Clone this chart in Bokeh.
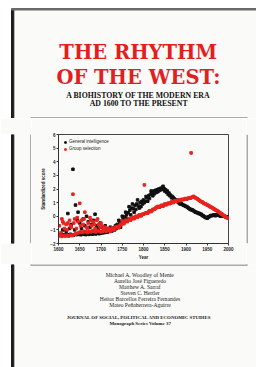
from bokeh.plotting import figure
from bokeh.layouts import column, row
from bokeh.models import Range1d, FixedTicker
from bokeh.core.properties import value
from bokeh.embed import file_html
from bokeh.resources import INLINE

# ---------------- data ----------------
x_ticks = [1600, 1650, 1700, 1750, 1800, 1850, 1900, 1950, 2000]
y_ticks = [-2, -1, 0, 1, 2, 3, 4, 5, 6]

gi_years = [1600, 1604, 1608, 1612, 1616, 1620, 1624, 1628, 1632, 1636, 1640, 1644, 1648, 1652, 1656,
            1660, 1664, 1668, 1672, 1676, 1680, 1684, 1688, 1692, 1696, 1700, 1704, 1708, 1712, 1716,
            1720, 1724, 1728, 1732, 1736, 1740, 1744, 1748, 1752, 1756, 1760, 1764, 1768, 1772, 1776,
            1780, 1784, 1788, 1792, 1796, 1800, 1804, 1808, 1812, 1816, 1820, 1824, 1828, 1832, 1836,
            1840, 1844, 1848, 1852, 1856, 1860, 1864, 1868, 1872, 1876, 1880, 1884, 1888, 1892, 1896,
            1900, 1904, 1908, 1912, 1916, 1920, 1924, 1928, 1932, 1936, 1940, 1944, 1948, 1952, 1956,
            1960, 1964, 1968, 1972, 1976, 1980, 1984, 1988, 1992, 1996, 2000]
gi_scores = [-1.35, -1.38, -1.33, -1.37, -1.40, -1.34, -1.37, -1.32, -1.36, -1.38, -1.33, -1.35, -1.30, -1.36, -1.33,
             -1.31, -1.35, -1.30, -1.33, -1.28, -1.32, -1.27, -1.30, -1.25, -1.28, -1.24, -1.22, -1.20, -1.18, -1.15,
             -1.12, -1.10, -1.05, -1.00, -0.90, -0.75, -0.55, -0.40, -0.20, -0.05, 0.10, 0.25, 0.45, 0.60, 0.55,
             0.80, 0.90, 0.75, 1.00, 1.10, 1.20, 1.10, 1.35, 1.50, 1.60, 1.70, 1.85, 1.90, 1.95, 2.00,
             2.05, 2.10, 2.05, 1.95, 1.85, 1.70, 1.55, 1.45, 1.30, 1.20, 1.10, 1.00, 0.95, 0.85, 0.80,
             0.72, 0.65, 0.55, 0.50, 0.45, 0.35, 0.30, 0.25, 0.20, 0.15, 0.05, -0.05, -0.10, -0.05, 0.00,
             0.05, 0.08, 0.05, 0.10, 0.08, 0.05, 0.00, 0.02, -0.02, -0.05, -0.08]
gi_years_b = [1610, 1618, 1622, 1626, 1630, 1634, 1638, 1640, 1644, 1646, 1650, 1654, 1658, 1662, 1666,
              1670, 1674, 1678, 1682, 1686, 1690, 1694, 1698, 1702, 1706, 1710, 1714, 1718, 1722, 1726,
              1730, 1734, 1738, 1742, 1746, 1750, 1754, 1758, 1762, 1766, 1770, 1774, 1778, 1782, 1786,
              1790, 1794, 1798, 1802, 1806, 1810, 1814, 1818, 1822, 1826, 1830, 1834, 1838, 1842, 1846,
              1850, 1854, 1858, 1862, 1866, 1870, 1874, 1878, 1882, 1886, 1890, 1894, 1898, 1902, 1906,
              1910, 1914, 1918, 1922, 1926, 1930, 1934, 1938, 1942, 1946, 1950, 1954, 1958, 1962, 1966,
              1970, 1974, 1978, 1982, 1986, 1990, 1994, 1998]
gi_scores_b = [-1.00, -1.10, 0.20, -0.90, -0.60, 3.45, -1.00, 0.82, -0.30, 0.30, -0.50, -0.90, -0.20, -0.70, 0.00,
               -0.40, -0.80, -0.60, -0.30, 0.15, -0.70, -0.90, -0.50, -0.80, -1.00, -0.70, -0.90, -1.00, -0.80, -0.95,
               -0.85, -0.70, -0.60, -0.30, -0.80, 0.00, -0.40, 0.30, -0.20, 0.70, 0.10, 0.90, 0.30, 0.50, 1.20,
               0.60, 0.70, 0.90, 1.00, 1.45, 1.10, 1.30, 1.85, 1.50, 1.65, 1.75, 1.80, 1.90, 1.95, 2.20,
               1.85, 1.75, 1.60, 1.50, 1.35, 1.35, 1.15, 1.15, 1.00, 0.90, 0.90, 0.80, 0.75, 0.70, 0.60,
               0.50, 0.45, 0.40, 0.30, 0.25, 0.20, 0.15, 0.05, 0.00, -0.10, -0.15, -0.05, 0.05, 0.05, 0.10,
               0.05, 0.12, 0.05, 0.00, 0.05, 0.00, -0.05, -0.08]

gs_years = list(gi_years)
gs_scores = [-1.45, -1.40, -1.48, -1.42, -1.45, -1.40, -1.46, -1.38, -1.42, -1.35, -1.30, -1.25, -1.20, -1.15, -1.20,
             -1.10, -1.15, -1.20, -1.10, -1.15, -1.05, -1.10, -1.15, -1.05, -1.10, -1.15, -1.10, -1.05, -1.10, -1.00,
             -1.05, -1.00, -0.95, -0.90, -0.85, -0.80, -0.70, -0.60, -0.50, -0.42, -0.35, -0.30, -0.25, -0.18, -0.12,
             -0.08, -0.02, 0.02, 0.06, 0.10, 0.14, 0.20, 0.25, 0.32, 0.38, 0.42, 0.50, 0.58, 0.64, 0.68,
             0.74, 0.78, 0.82, 0.86, 0.90, 0.95, 0.98, 1.02, 1.08, 1.12, 1.15, 1.17, 1.20, 1.22, 1.25,
             1.27, 1.30, 1.33, 1.36, 1.42, 1.40, 1.32, 1.25, 1.15, 1.07, 1.00, 0.92, 0.86, 0.80, 0.72,
             0.65, 0.57, 0.50, 0.42, 0.35, 0.25, 0.16, 0.07, -0.03, -0.10, -0.15]
gs_years_b = [1602, 1606, 1608, 1610, 1612, 1614, 1618, 1620, 1622, 1626, 1628, 1630, 1634, 1636, 1638,
              1642, 1644, 1646, 1650, 1652, 1654, 1658, 1660, 1662, 1666, 1668, 1670, 1674, 1676, 1678,
              1682, 1684, 1686, 1690, 1692, 1694, 1698, 1700, 1702, 1706, 1710, 1714, 1718, 1722, 1726,
              1730, 1734, 1738, 1742, 1746, 1750, 1754, 1758, 1762, 1766, 1770, 1774, 1778, 1782, 1786,
              1790, 1794, 1798, 1802, 1806, 1810, 1814, 1818, 1822, 1826, 1830, 1834, 1838, 1842, 1846,
              1850, 1854, 1858, 1862, 1866, 1870, 1874, 1878, 1882, 1886, 1890, 1894, 1898, 1902, 1906,
              1910, 1912, 1914, 1918, 1922, 1926, 1930, 1934, 1938, 1942, 1946, 1950, 1954, 1958, 1962,
              1966, 1970, 1974, 1978, 1982, 1986, 1990, 1994, 1998]
gs_scores_b = [-0.70, -1.20, -0.20, -0.40, -0.50, -0.90, -0.60, -1.00, -0.50, -0.30, -0.70, -0.80, 1.62, -0.50, -0.20,
               -0.90, -0.10, -0.40, 0.95, -0.70, -0.30, -0.60, -0.20, 0.30, -0.80, -0.90, -0.50, -0.10, -0.30, -0.70,
               -0.40, -0.60, -0.90, -0.30, -0.20, -0.60, -0.80, -0.50, -0.70, -0.90, -0.80, -1.00, -0.90, -1.10, -0.85,
               -1.00, -0.80, -0.75, -0.85, -0.60, -0.35, -0.55, -0.30, -0.40, -0.20, -0.28, -0.08, -0.18, 0.00, -0.08,
               0.10, 0.02, 0.16, 2.30, 0.26, 0.22, 0.40, 0.34, 0.50, 0.52, 0.66, 0.72, 0.66, 0.80, 0.74,
               0.90, 0.84, 0.96, 0.92, 1.06, 1.00, 1.14, 1.08, 1.20, 1.14, 1.24, 1.22, 1.30, 1.26, 1.34,
               1.32, 4.65, 1.40, 1.46, 1.36, 1.30, 1.20, 1.10, 1.05, 0.95, 0.90, 0.82, 0.76, 0.68, 0.62,
               0.53, 0.46, 0.38, 0.30, 0.20, 0.12, 0.02, -0.08, -0.12]

title_lines = ["THE RHYTHM", "OF THE WEST:"]
subtitle_lines = ["A BIOHISTORY OF THE MODERN ERA", "AD 1600 TO THE PRESENT"]
authors = ["Michael A. Woodley of Menie", "Aurelio José Figueredo", "Matthew A. Sarraf",
           "Steven C. Hertler", "Heitor Barcellos Ferreira Fernandes", "Mateo Peñaherrera-Aguirre"]
journal_lines = ["JOURNAL OF  SOCIAL, POLITICAL AND ECONOMIC STUDIES", "Monograph Series Volume 37"]

# ---------------- layout (page pixel coordinates) ----------------
W, H = 256, 367
PAPER = "#fafaf8"
EDGE = "#1c1c1c"
BOXC = "#5a5a5a"
TOP_H = 118               # rows 0..118
BOX_L, BOX_R = 31, 246    # chart figure columns
CH_H = 146                # rows 118..264
BOT_H = H - TOP_H - CH_H  # rows 264..367


def panel(w, h, x0, y0):
    f = figure(width=w, height=h, x_range=Range1d(x0, x0 + w), y_range=Range1d(y0 + h, y0),
               output_backend="svg", toolbar_location=None, x_axis_type=None, y_axis_type=None,
               min_border=0, title=None)
    f.outline_line_color = None
    f.background_fill_color = PAPER
    f.border_fill_color = PAPER
    # white page outside the cover and the dark spine edge
    f.quad(left=[x0], right=[11], top=[y0], bottom=[y0 + h], color="#ffffff")
    f.quad(left=[11], right=[13.3], top=[max(y0, 8)], bottom=[y0 + h], color=EDGE)
    return f


top = panel(W, TOP_H, 0, 0)
top.quad(left=[11], right=[W], top=[0], bottom=[8], color="#ffffff")
top.quad(left=[11], right=[W], top=[8], bottom=[9.5], color="#6a6a6a")
top.segment(x0=[30, 30.5, 246.5], y0=[117.5, 117.5, 117.5], x1=[247, 30.5, 246.5], y1=[117.5, 118, 118],
            line_color=BOXC, line_width=1)
top.text(x=[137.7, 138], y=[52, 77], text=title_lines, text_align="center",
         text_baseline="middle", text_font=value("DejaVu Serif"), text_font_style="bold",
         text_font_size="19.5px", text_color="#e21f1f")
top.text(x=[138, 138.3], y=[94.5, 102.7], text=subtitle_lines, text_align="center",
         text_baseline="middle", text_font=value("Liberation Serif"), text_font_style="bold",
         text_font_size="7.8px", text_color="#111111")

left = panel(BOX_L, CH_H, 0, TOP_H)
left.segment(x0=[30.5], y0=[TOP_H], x1=[30.5], y1=[TOP_H + CH_H], line_color=BOXC, line_width=1)
right = figure(width=W - BOX_R, height=CH_H, x_range=Range1d(BOX_R, W),
               y_range=Range1d(TOP_H + CH_H, TOP_H), output_backend="svg", toolbar_location=None,
               x_axis_type=None, y_axis_type=None, min_border=0, title=None)
right.outline_line_color = None
right.background_fill_color = PAPER
right.border_fill_color = PAPER
right.segment(x0=[246.5], y0=[TOP_H], x1=[246.5], y1=[TOP_H + CH_H], line_color=BOXC, line_width=1)

bot = panel(W, BOT_H, 0, TOP_H + CH_H)
bot.segment(x0=[30, 30.5, 246.5], y0=[264.5, 264, 264], x1=[247, 30.5, 246.5], y1=[264.5, 264.5, 264.5],
            line_color=BOXC, line_width=1)
bot.text(x=[139.5] * len(authors), y=[274 + 6 * i for i in range(len(authors))], text=authors,
         text_align="center", text_baseline="middle", text_font=value("Liberation Serif"),
         text_font_size="5.6px", text_color="#222222")
bot.text(x=[139.2, 139.7], y=[316.7, 322.7], text=journal_lines, text_align="center",
         text_baseline="middle", text_font=value("Liberation Serif"), text_font_style="bold",
         text_font_size="4.9px", text_color="#222222")

# ---------------- chart ----------------
p = figure(width=BOX_R - BOX_L, height=CH_H, output_backend="svg", toolbar_location=None,
           x_range=Range1d(1600, 2000), y_range=Range1d(-2, 6), title=None,
           min_border_left=27, min_border_right=18, min_border_top=16, min_border_bottom=21)
p.background_fill_color = PAPER
p.border_fill_color = PAPER
p.outline_line_color = "#444444"
p.xgrid.visible = False
p.ygrid.visible = False

p.scatter(gi_years + gi_years_b, gi_scores + gi_scores_b, marker="square", size=2.5,
          color="#111111", legend_label="General intelligence")
p.scatter(gs_years + gs_years_b, gs_scores + gs_scores_b, marker="square", size=2.5,
          color="#e8231f", legend_label="Group selection")

for ax in (p.xaxis[0], p.yaxis[0]):
    ax.axis_line_color = "#333333"
    ax.major_tick_line_color = "#333333"
    ax.major_tick_out = 2
    ax.major_tick_in = 0
    ax.minor_tick_out = 0
    ax.minor_tick_in = 0
    ax.major_label_text_font = "Liberation Sans"
    ax.major_label_text_font_size = "4.5px"
    ax.major_label_text_font_style = "bold"
    ax.major_label_text_color = "#222222"
    ax.major_label_standoff = 1
    ax.axis_label_text_font = "Liberation Sans"
    ax.axis_label_text_font_size = "4.5px"
    ax.axis_label_text_font_style = "bold"
    ax.axis_label_text_color = "#222222"
    ax.axis_label_standoff = 1
p.xaxis.ticker = FixedTicker(ticks=x_ticks)
p.yaxis.ticker = FixedTicker(ticks=y_ticks)
p.xaxis.axis_label = "Year"
p.yaxis.axis_label = "Standardized score"

lg = p.legend[0]
lg.location = "top_left"
lg.label_text_font = "Liberation Sans"
lg.label_text_font_size = "4.5px"
lg.label_text_color = "#222222"
lg.glyph_width = 4
lg.glyph_height = 4
lg.label_height = 5
lg.label_standoff = 2
lg.spacing = 2
lg.padding = 1
lg.margin = 4
lg.background_fill_alpha = 0
lg.border_line_alpha = 0

layout = column(top, row(left, p, right, spacing=0), bot, spacing=0)
open("out.html", "w").write(file_html(layout, INLINE))
